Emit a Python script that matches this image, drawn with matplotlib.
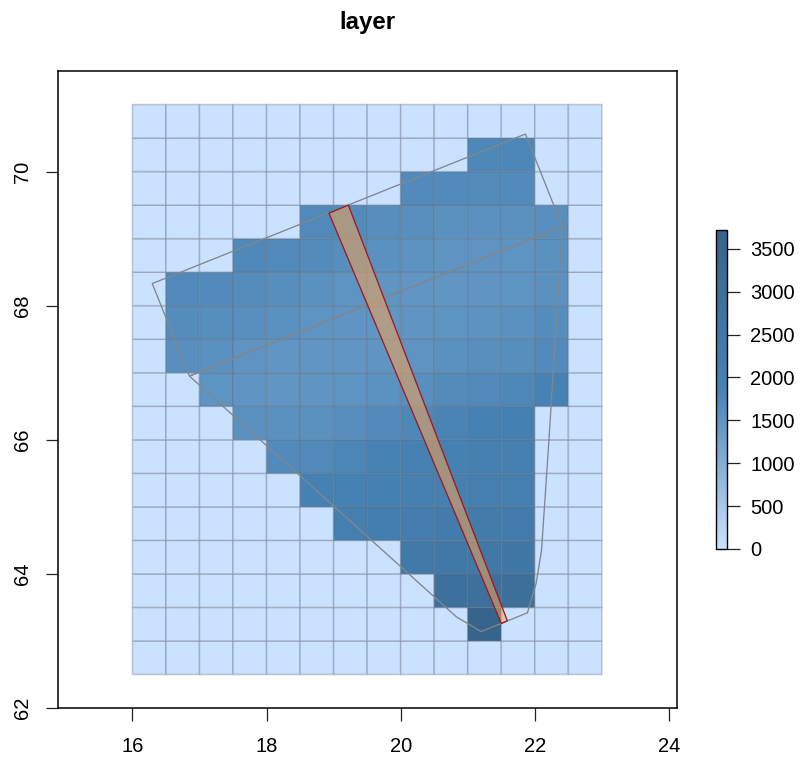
import numpy as np
import matplotlib
matplotlib.use("Agg")
import matplotlib.pyplot as plt
from matplotlib.colors import LinearSegmentedColormap, Normalize
from matplotlib.patches import Polygon

plt.rcParams['font.family'] = ['Liberation Sans', 'DejaVu Sans']

x_edges = np.arange(16, 23.01, 0.5)
y_edges = np.arange(62.5, 71.01, 0.5)
# cell values, north to south, west to east (14 columns)
rows = [
    [0]*14,
    [0]*10 + [1750, 1760] + [0]*2,
    [0]*8 + [1700, 1700, 1680, 1700] + [0]*2,
    [0]*5 + [1720, 1680, 1640, 1600, 1580, 1560, 1570, 1600] + [0],
    [0]*3 + [1740, 1720, 1680, 1620, 1560, 1530, 1500, 1500, 1520, 1570] + [0],
    [0] + [1720, 1700, 1660, 1620, 1580, 1520, 1490, 1480, 1480, 1490, 1520, 1580] + [0],
    [0] + [1660, 1640, 1600, 1560, 1520, 1490, 1480, 1490, 1520, 1540, 1560, 1650] + [0],
    [0] + [1600, 1560, 1500, 1480, 1480, 1480, 1490, 1510, 1560, 1600, 1640, 1700] + [0],
    [0]*2 + [1520, 1490, 1480, 1490, 1520, 1550, 1600, 1680, 1720, 1750, 1860] + [0],
    [0]*3 + [1570, 1570, 1580, 1620, 1690, 1750, 1830, 1900, 1960] + [0]*2,
    [0]*4 + [1700, 1720, 1780, 1860, 1900, 1940, 1980, 2000] + [0]*2,
    [0]*5 + [1900, 1920, 1950, 1980, 2000, 2020, 2060] + [0]*2,
    [0]*6 + [2050, 2080, 2150, 2200, 2250, 2280] + [0]*2,
    [0]*8 + [2400, 2450, 2500, 2550] + [0]*2,
    [0]*9 + [2900, 2950, 3000] + [0]*2,
    [0]*10 + [3700] + [0]*3,
    [0]*14,
]
values = np.array(rows[::-1], dtype=float)
z_max = 3720
cbar_ticks = [0, 500, 1000, 1500, 2000, 2500, 3000, 3500]
x_ticks = [16, 18, 20, 22, 24]
y_ticks = [62, 64, 66, 68, 70]
title = "layer"

north_poly = [(16.295, 68.33), (21.86, 70.56), (22.41, 69.18), (16.85, 66.95)]
south_poly = [(16.85, 66.95), (22.41, 69.18), (22.21, 65.99), (22.10, 64.35),
              (22.02, 63.86), (21.89, 63.42), (21.20, 63.14), (20.83, 63.36)]
strip_poly = [(18.93, 69.38), (19.22, 69.50), (21.59, 63.30), (21.50, 63.26)]

W, H = 801, 757
fig = plt.figure(figsize=(W/100, H/100), dpi=100)
ax = fig.add_axes([58/W, 1-708/H, 619/W, 637/H])
cmap = LinearSegmentedColormap.from_list("ramp", ["#CAE1FF", "#4682B4", "#36648B"], N=256)
norm = Normalize(0, z_max)
mesh = ax.pcolormesh(x_edges, y_edges, values, cmap=cmap, norm=norm, antialiased=True,
                     edgecolors=(0.38, 0.42, 0.48, 0.32), linewidth=1.15, snap=False)
for poly in (north_poly, south_poly):
    ax.add_patch(Polygon(poly, closed=True, fill=False, edgecolor="#7F878F", linewidth=0.95, zorder=3))
ax.add_patch(Polygon(strip_poly, closed=True, facecolor=(1.0, 0.647, 0.31, 0.5), edgecolor="none", zorder=4))
ax.add_patch(Polygon(strip_poly, closed=True, fill=False, edgecolor="#9A1B27", linewidth=0.95, zorder=5))

ax.set_xlim(14.89, 24.12)
ax.set_ylim(62, 71.5)
ax.set_xticks(x_ticks)
ax.set_yticks(y_ticks)
ax.tick_params(axis='both', length=9, width=0.9, labelsize=14.5, color="#222222")
ax.tick_params(axis='x', pad=12)
ax.tick_params(axis='y', pad=9.5)
for lab in ax.get_yticklabels():
    lab.set_rotation(90)
    lab.set_va('center')
for s in ax.spines.values():
    s.set_linewidth(1.1)
fig.text(367/W, 1-22/H, title, ha='center', va='center', fontsize=17.3, fontweight='bold')

cax = fig.add_axes([716/W, 1-549/H, 10.5/W, 319/H])
cb = fig.colorbar(mesh, cax=cax)
cb.set_ticks(cbar_ticks)
cb.ax.tick_params(length=9, width=0.9, labelsize=14.5, pad=8, color="#222222")
cb.outline.set_linewidth(1.0)

fig.savefig("out.png", dpi=100)
